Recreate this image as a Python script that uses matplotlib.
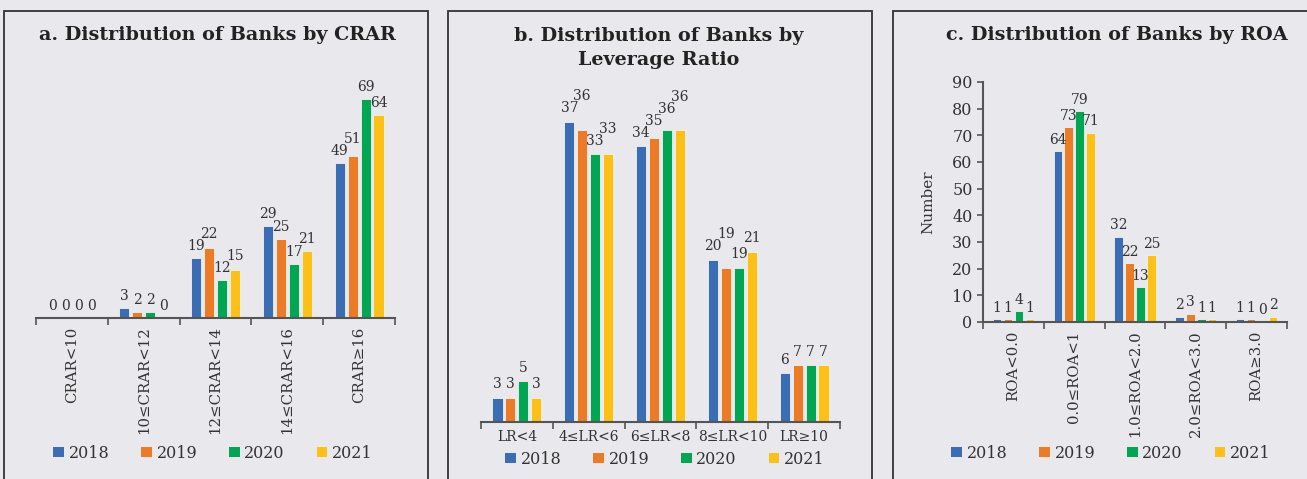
import matplotlib
matplotlib.use("Agg")
import matplotlib.pyplot as plt
from matplotlib.patches import Rectangle, Patch
import numpy as np

plt.rcParams['font.family'] = ['DejaVu Serif']

years = ['2018', '2019', '2020', '2021']
colors = ['#3b6db5', '#ed7b25', '#00a651', '#fcc016']

crar_cats = ['CRAR<10', '10≤CRAR<12', '12≤CRAR<14', '14≤CRAR<16', 'CRAR≥16']
crar_2018 = [0, 3, 19, 29, 49]
crar_2019 = [0, 2, 22, 25, 51]
crar_2020 = [0, 2, 12, 17, 69]
crar_2021 = [0, 0, 15, 21, 64]

lr_cats = ['LR<4', '4≤LR<6', '6≤LR<8', '8≤LR<10', 'LR≥10']
lr_2018 = [3, 37, 34, 20, 6]
lr_2019 = [3, 36, 35, 19, 7]
lr_2020 = [5, 33, 36, 19, 7]
lr_2021 = [3, 33, 36, 21, 7]

roa_cats = ['ROA<0.0', '0.0≤ROA<1', '1.0≤ROA<2.0', '2.0≤ROA<3.0', 'ROA≥3.0']
roa_2018 = [1, 64, 32, 2, 1]
roa_2019 = [1, 73, 22, 3, 1]
roa_2020 = [4, 79, 13, 1, 0]
roa_2021 = [1, 71, 25, 1, 2]

W, H = 1307, 479
bg = '#e9e8ed'
fig = plt.figure(figsize=(W / 100, H / 100), dpi=100, facecolor=bg)
renderer = fig.canvas.get_renderer()


def fx(px):
    return px / W


def fy(py):
    return 1 - py / H


# panel frames
for x0, x1 in [(4, 428), (448, 872), (893, 1312)]:
    fig.patches.append(Rectangle((fx(x0), fy(485)), fx(x1 - x0), (485 - 11) / H,
                                 transform=fig.transFigure, fill=False,
                                 edgecolor='#333333', lw=1.3))


def draw_panel(rect, cats, series, ylim, rot, show_y=False, label_fs=10, tick_fs=10.7):
    ax = fig.add_axes(rect)
    ax.set_facecolor('none')
    ax.set_xlim(-0.5, len(cats) - 0.5)
    ax.set_ylim(0, ylim)
    x = np.arange(len(cats))
    bw = 0.14
    pitch = 0.18
    labels = [[None] * len(series) for _ in cats]
    for i, vals in enumerate(series):
        pos = x + (i - 1.5) * pitch
        bars = ax.bar(pos, vals, width=bw, color=colors[i], edgecolor='#f2f2f2', lw=0.6)
        for j, (b, v) in enumerate(zip(bars, vals)):
            labels[j][i] = ax.text(b.get_x() + b.get_width() / 2, v + ylim * 0.02, str(v),
                                   ha='center', va='bottom', fontsize=label_fs, color='#333333')
    # lift a value label when it runs into the one on its left
    for grp in labels:
        for i in range(1, len(grp)):
            prev = grp[i - 1].get_window_extent(renderer)
            cur = grp[i].get_window_extent(renderer)
            if cur.x0 < prev.x1 - 1 and cur.y0 < prev.y1 - 2 and cur.y1 > prev.y0 + 2:
                shift = prev.y1 - 2 - cur.y0
                xd, yd = grp[i].get_position()
                ydisp = ax.transData.transform((xd, yd))[1] + shift
                grp[i].set_y(ax.transData.inverted().transform((0, ydisp))[1])
    ax.set_xticks(x)
    ax.set_xticklabels(cats, rotation=rot, fontsize=tick_fs, color='#333333')
    ax.set_xticks(np.arange(len(cats) + 1) - 0.5, minor=True)
    ax.tick_params(axis='x', which='major', length=0, pad=6)
    ax.tick_params(axis='x', which='minor', length=5, width=1.2, color='#555555', direction='out')
    for s in ['top', 'right']:
        ax.spines[s].set_visible(False)
    ax.spines['bottom'].set_color('#555555')
    ax.spines['bottom'].set_linewidth(1.5)
    if show_y:
        ax.spines['left'].set_color('#555555')
        ax.spines['left'].set_linewidth(1.5)
        ax.set_yticks(range(0, 91, 10))
        ax.tick_params(axis='y', labelsize=11.5, length=4, width=1.2, color='#555555', colors='#333333')
        ax.set_ylabel('Number', fontsize=11, color='#333333', labelpad=12)
    else:
        ax.spines['left'].set_visible(False)
        ax.set_yticks([])
    return ax


ax_a = draw_panel([fx(36), fy(318), fx(359), (318 - 60) / H], crar_cats,
                  [crar_2018, crar_2019, crar_2020, crar_2021], 81.4, 90)
ax_b = draw_panel([fx(481), fy(422), fx(359), (422 - 100) / H], lr_cats,
                  [lr_2018, lr_2019, lr_2020, lr_2021], 39.7, 0, tick_fs=10)
ax_c = draw_panel([fx(983), fy(322), fx(304), (322 - 82) / H], roa_cats,
                  [roa_2018, roa_2019, roa_2020, roa_2021], 90, 90, show_y=True)

# titles
title_kw = dict(ha='center', va='center', fontsize=13.8, fontweight='bold', color='#222222')
fig.text(fx(217), fy(35), 'a. Distribution of Banks by CRAR', **title_kw)
fig.text(fx(659), fy(48), 'b. Distribution of Banks by\nLeverage Ratio', linespacing=1.45, **title_kw)
fig.text(fx(1117), fy(35), 'c. Distribution of Banks by ROA', **title_kw)

# legends
handles = [Patch(facecolor=c, edgecolor='none') for c in colors]
for cx, cy in [(213, 453), (665, 459), (1111, 453)]:
    fig.legend(handles, years, loc='center', bbox_to_anchor=(fx(cx), fy(cy)), ncol=4,
               frameon=False, fontsize=11.5, handlelength=0.65, handleheight=0.65,
               handletextpad=0.3, columnspacing=2.0, labelcolor='#333333')

fig.savefig('out.png', dpi=100, facecolor=bg)
